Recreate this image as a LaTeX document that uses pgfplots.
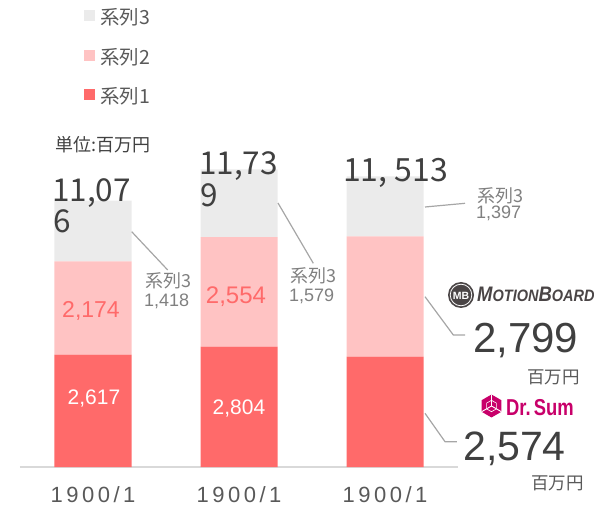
\documentclass[border=0pt]{standalone}
\usepackage{pgfplots}
\pgfplotsset{compat=1.18}
\usepackage{graphicx}
\usepackage{fontspec}
\setmainfont{Liberation Sans}
\newfontfamily\jp{Noto Sans CJK JP}
\definecolor{cA}{HTML}{FF6A6A}
\definecolor{cB}{HTML}{FFC3C3}
\definecolor{cC}{HTML}{EBEBEB}
\definecolor{axgray}{HTML}{D9D9D9}
\definecolor{txtgray}{HTML}{595959}
\definecolor{lblgray}{HTML}{808080}
\definecolor{leadgray}{HTML}{A6A6A6}
\definecolor{dark}{HTML}{404040}
\definecolor{drmag}{HTML}{C8006A}
\definecolor{mbgray}{HTML}{4A4546}
\newcommand\tl{1\kern3.5pt9\kern3.5pt0\kern3.5pt0\kern3.5pt/\kern3.5pt1}
\newcommand\fs[1]{\fontsize{#1}{#1}\selectfont}
\begin{document}
\begin{tikzpicture}
\path[use as bounding box] (0,0) rectangle (594pt,506pt);
\begin{axis}[
  at={(20pt,39pt)}, anchor=south west,
  width=438pt, height=467pt, scale only axis,
  xmin=-0.5, xmax=2.5, ymin=0, ymax=10881,
  ybar stacked, bar width=77pt, clip=false,
  axis y line=none, axis x line*=bottom,
  x axis line style={-, draw=axgray, line width=1.5pt},
  ytick=\empty,
  xtick={0,1,2}, xticklabels={\tl,\tl,\tl},
  major tick length=0pt,
  xticklabel style={font=\fs{22}, text=txtgray, anchor=base, yshift=-35pt, inner sep=0pt},
  legend style={at={(axis description cs:0.1461,0.979)}, anchor=north west,
    draw=none, fill=none, inner sep=0pt, row sep=21pt,
    font=\jp\fs{19.5}, text=txtgray,
    nodes={inner sep=0pt, text height=14pt, text depth=4pt},
    /tikz/every odd column/.append style={column sep=5pt}},
  legend cell align=left,
  legend image code/.code={\fill[#1, draw=none] (0pt,-1.5pt) rectangle (11pt,9.5pt);},
  reverse legend,
]
\addplot[fill=cA, draw=none] coordinates {(0,2617) (1,2804) (2,2574)};
\addlegendentry{系列1}
\addplot[fill=cB, draw=none] coordinates {(0,2174) (1,2554) (2,2799)};
\addlegendentry{系列2}
\addplot[fill=cC, draw=none] coordinates {(0,1418) (1,1579) (2,1397)};
\addlegendentry{系列3}
\end{axis}
\begin{axis}[
  at={(20pt,39pt)}, anchor=south west,
  width=438pt, height=467pt, scale only axis,
  xmin=-0.5, xmax=2.5, ymin=0, ymax=10881,
  hide axis, clip=false]
\addplot[leadgray, line width=1.2pt] coordinates {(0.2651,5482) (0.5116,4590)};
\addplot[leadgray, line width=1.2pt] coordinates {(1.2671,6151) (1.5089,4746)};
\addplot[leadgray, line width=1.2pt] coordinates {(2.274,6058) (2.548,6144)};
\addplot[leadgray, line width=1.2pt] coordinates {(2.274,3968) (2.4678,3076) (2.548,3076)};
\addplot[leadgray, line width=1.2pt] coordinates {(2.274,1251) (2.411,590) (2.493,590)};
\end{axis}
\begin{scope}[x=1pt, y=-1pt, shift={(0pt,506pt)}]
% unit label
\node[anchor=west, inner sep=0pt, text=dark, font=\jp\fs{18}] at (55,145) {単位:百万円};
% totals
\node[anchor=base west, inner sep=0pt, text=dark, font=\jp\fs{31.5}] at (52,202) {11,07};
\node[anchor=base west, inner sep=0pt, text=dark, font=\jp\fs{31.5}] at (53.5,233) {6};
\node[anchor=base west, inner sep=0pt, text=dark, font=\jp\fs{31.5}] at (199,175) {11,73};
\node[anchor=base west, inner sep=0pt, text=dark, font=\jp\fs{31.5}] at (200,207) {9};
\node[anchor=base west, inner sep=0pt, text=dark, font=\jp\fs{32}] at (343,182) {11, 513};
% inner labels
\node[anchor=base, inner sep=0pt, text=cA, font=\fs{23}] at (91,318) {2,174};
\node[anchor=base, inner sep=0pt, text=cA, font=\fs{24}] at (236,304) {2,554};
\node[anchor=base, inner sep=0pt, text=white, font=\fs{21}] at (94,405) {2,617};
\node[anchor=base, inner sep=0pt, text=white, font=\fs{21}] at (239,414) {2,804};
% series 3 callouts
\node[anchor=west, inner sep=0pt, text=lblgray, font=\jp\fs{18}] at (145,280.5) {系列3};
\node[anchor=base west, inner sep=0pt, text=lblgray, font=\fs{18}] at (144,306.5) {1,418};
\node[anchor=west, inner sep=0pt, text=lblgray, font=\jp\fs{18}] at (290,275.5) {系列3};
\node[anchor=base west, inner sep=0pt, text=lblgray, font=\fs{18}] at (289,302) {1,579};
\node[anchor=west, inner sep=0pt, text=lblgray, font=\jp\fs{18}] at (477,195.5) {系列3};
\node[anchor=base west, inner sep=0pt, text=lblgray, font=\fs{18}] at (476,219) {1,397};
% MotionBoard
\fill[mbgray] (461,295) circle (13);
\draw[white, line width=0.8pt] (461,295) circle (10.8);
\node[inner sep=0pt, text=white, font=\bfseries\fs{10.5}] at (461,295.5) {MB};
\node[anchor=base west, inner sep=0pt, text=mbgray, font=\bfseries\itshape] at (477,302)
  {\scalebox{0.88}[1]{\fs{21}M\fs{16.5}OTION\fs{21}B\fs{16.5}OARD}};
\node[anchor=base west, inner sep=0pt, text=dark, font=\fs{42}] at (473,353) {2,799};
\node[anchor=west, inner sep=0pt, text=txtgray, font=\jp\fs{17.5}] at (527,377.5) {百万円};
% Dr.Sum
\fill[drmag] (491.5,406) +(90:11.5) -- +(30:11.5) -- +(-30:11.5) -- +(-90:11.5) -- +(-150:11.5) -- +(150:11.5) -- cycle;
\draw[white, line width=0.9pt] (491.5,406) -- +(-90:11.5) (491.5,406) -- +(30:11.5) (491.5,406) -- +(150:11.5);
\draw[white, line width=0.6pt] (491.5,406) +(-90:5.7) -- +(-30:5.7) -- +(30:5.7) -- +(90:5.7) -- +(150:5.7) -- +(-150:5.7) -- cycle;
\node[anchor=base west, inner sep=0pt, text=drmag, font=\bfseries\fs{23}] at (506,415) {\scalebox{0.8}[1]{Dr.\kern4pt Sum}};
\node[anchor=base west, inner sep=0pt, text=dark, font=\fs{41}] at (463,460) {2,574};
\node[anchor=west, inner sep=0pt, text=txtgray, font=\jp\fs{17.5}] at (531,483.5) {百万円};
\end{scope}
\end{tikzpicture}
\end{document}
